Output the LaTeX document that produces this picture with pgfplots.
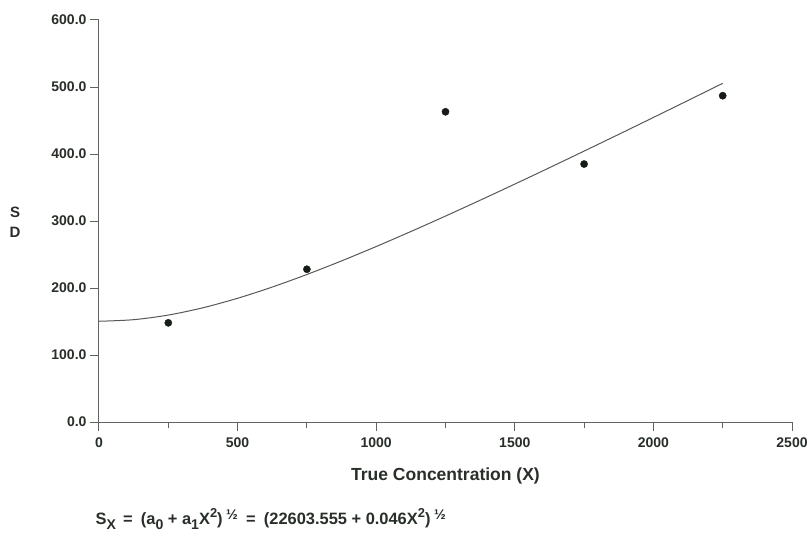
\documentclass[border=0pt]{standalone}
\usepackage{pgfplots}
\pgfplotsset{compat=1.18}
\usepackage{fontspec}
\setmainfont{Liberation Sans}
\definecolor{txt}{RGB}{40,46,40}
\definecolor{axc}{RGB}{95,100,95}
\definecolor{crv}{RGB}{85,90,85}
\definecolor{pts}{RGB}{22,28,22}
\newcommand{\sbs}[1]{\raisebox{-3.5pt}{\fontsize{12}{12}\selectfont #1}}
\newcommand{\sps}[1]{\raisebox{6pt}{\fontsize{11}{12}\selectfont #1}}
\newcommand{\half}{\hspace{3pt}\raisebox{5pt}{\fontsize{12}{12}\selectfont ½}}
\begin{document}
\begin{tikzpicture}
\path[use as bounding box] (-99pt,-114pt) rectangle (711pt,422pt);
\begin{axis}[
  scale only axis, width=693pt, height=402pt,
  xmin=0, xmax=2500, ymin=0, ymax=600,
  axis lines*=left,
  axis line style={color=axc, line width=1pt},
  tick style={color=axc, line width=1pt},
  tick align=outside,
  major tick length=9pt,
  minor tick length=6pt,
  xtick={0,500,...,2500},
  minor xtick={250,750,...,2250},
  ytick={0,100,...,600},
  /pgf/number format/assume math mode=true,
  x tick label style={/pgf/number format/set thousands separator={}, font=\fontsize{14}{16}\selectfont\bfseries, text=txt, yshift=-3pt},
  y tick label style={/pgf/number format/fixed, /pgf/number format/fixed zerofill, /pgf/number format/precision=1, font=\fontsize{14}{16}\selectfont\bfseries, text=txt, xshift=0pt},
  xlabel={True Concentration (X)},
  every axis x label/.style={at={(axis description cs:0.5,-0.134)}, anchor=center, font=\fontsize{17.5}{20}\selectfont\bfseries, text=txt},
  ylabel={S\\D},
  every axis y label/.style={at={(axis description cs:-0.121,0.4975)}, anchor=center, align=center, font=\fontsize{15}{20}\selectfont\bfseries, text=txt},
  clip=false,
]
\addplot[crv, line width=1pt, smooth, no markers] coordinates {
(0,150.35) (125,152.72) (250,159.62) (375,170.51) (500,184.67) (625,201.43)
(750,220.18) (875,240.46) (1000,261.92) (1125,284.29) (1250,307.37) (1375,331.02)
(1500,355.11) (1625,379.57) (1750,404.33) (1875,429.33) (2000,454.54) (2125,479.92)
(2250,505.45)};
\addplot[only marks, mark=*, mark size=3.6pt, color=pts] coordinates {
(250,148) (750,228) (1250,463) (1750,385) (2250,487)};
\node[anchor=base west, text=txt, inner sep=0pt] at (axis description cs:-0.005,-0.256)
 {\resizebox{350pt}{!}{\fontsize{14}{14}\selectfont\bfseries S\sbs{X}\hspace{6pt}=\hspace{7pt}(a\sbs{0} + a\sbs{1}X\sps{2})\half\hspace{7pt}=\hspace{7pt}(22603.555 + 0.046X\sps{2})\half}};
\end{axis}
\end{tikzpicture}
\end{document}
